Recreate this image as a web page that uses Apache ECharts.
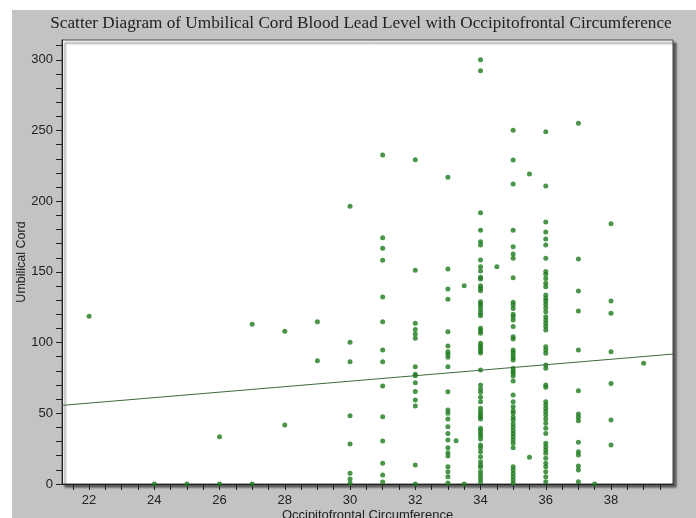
<!DOCTYPE html>
<html>
<head>
<meta charset="utf-8">
<script src="https://cdn.jsdelivr.net/npm/echarts@6/dist/echarts.min.js"></script>
<style>
html,body{margin:0;padding:0;background:#ffffff;}
#frame{position:absolute;left:12px;top:10px;width:684px;height:508px;background:#c3c3c3;}
#chart{position:absolute;left:0;top:0;width:696px;height:518px;}
</style>
</head>
<body>
<div id="frame"></div>
<div id="chart"></div>
<script>
// Occipitofrontal circumference columns -> umbilical cord blood lead values
const x22 = [118.7];
const x24 = [0];
const x25 = [0];
const x26 = [33.5, 0];
const x27 = [113, 0];
const x28 = [108, 41.7];
const x29 = [114.8, 87.2];
const x30 = [196.4, 100.2, 86.5, 48.2, 28.3, 7.6, 3.5, 0.5];
const x31 = [232.7, 174.2, 166.7, 158.2, 132.2, 114.8, 94.8, 86.5, 69.3, 47.6, 30.4, 14.6, 6.4, 1.4];
const x32 = [229.4, 151.1, 113.7, 109.2, 106, 103, 83, 77.6, 76.6, 71.6, 65.5, 59.4, 55.2, 13.4, 0];
const x33 = [216.9, 152, 137.9, 130.6, 107.7, 97.6, 93.6, 91.7, 89.6, 83, 65.3, 52.3, 50, 46, 40.5, 35.8, 31.1, 25.7, 22.1, 19.8, 12.2, 8.7, 5.2, 0.7];
const x33_25 = [30.6];
const x33_5 = [140.2, 0];
const x34 = [300, 292.3, 191.9, 179.4, 171.4, 169, 158.4, 153.7, 150.6, 146.2, 145, 140.2, 138.4, 136.7, 128.9, 127.1, 125.4, 123.1, 120.7, 119, 110.1, 108.4, 106.6, 99.5, 97.6, 96, 94.1, 92.6, 80.6, 70, 67.2, 64.8, 61.3, 58.2, 53.5, 51.2, 49.3, 47.6, 46, 39.4, 37.7, 35.8, 33.9, 31.8, 27.6, 25.7, 22.8, 19.3, 15.8, 13.4, 11.8, 8.7, 6.4, 4, 1.6];
const x34_5 = [153.7];
const x35 = [250.1, 229.1, 212.2, 179.4, 167.8, 162.7, 159.6, 145.9, 128.5, 126.6, 124.2, 120, 118.3, 116, 111.3, 104.2, 102.5, 94.8, 93.1, 91.2, 89.3, 87.7, 81.8, 79.9, 78.3, 76.4, 72.8, 62.9, 58.2, 54.7, 51.8, 50, 47.2, 45.3, 42.4, 40.1, 37.7, 35.8, 33.5, 31.1, 28.8, 25.7, 12.2, 9.9, 7.5, 5.2, 2.8, 0.5];
const x35_5 = [219.2, 18.9];
const x36 = [249.2, 210.7, 185.3, 178.2, 173.3, 169, 159.6, 150.2, 148.3, 145.4, 141.9, 139.5, 133.7, 131.3, 129.4, 127.1, 124.7, 121.9, 118.3, 116, 113.6, 111.3, 108.9, 97.1, 94.8, 92.4, 84.2, 81.8, 70, 68.4, 58.2, 55.9, 53.5, 51.2, 48.8, 46, 42.9, 39.4, 35.8, 28.8, 26.4, 24, 21.7, 18.2, 14.6, 12.2, 8.7, 5.2, 1.6];
const x37 = [255.1, 159.1, 136.5, 122.3, 94.8, 66, 49.5, 47.2, 44.8, 29.5, 22.8, 20.5, 12.7, 9.9, 1.6];
const x37_5 = [0];
const x38 = [184.1, 129.4, 120.7, 93.6, 71, 45.3, 27.6];
const x39 = [85.4];

const columnX = [22, 24, 25, 26, 27, 28, 29, 30, 31, 32, 33, 33.25, 33.5, 34, 34.5, 35, 35.5, 36, 37, 37.5, 38, 39];
const columnY = [x22, x24, x25, x26, x27, x28, x29, x30, x31, x32, x33, x33_25, x33_5, x34, x34_5, x35, x35_5, x36, x37, x37_5, x38, x39];

// fitted line end points
const trendX = [21.17, 39.9];
const trendY = [55.6, 91.9];

// axis ticks and labels
const xTicks = [21.5, 22, 22.5, 23, 23.5, 24, 24.5, 25, 25.5, 26, 26.5, 27, 27.5, 28, 28.5, 29, 29.5, 30, 30.5, 31, 31.5, 32, 32.5, 33, 33.5, 34, 34.5, 35, 35.5, 36, 36.5, 37, 37.5, 38, 38.5, 39, 39.5];
const xLabels = [22, 24, 26, 28, 30, 32, 34, 36, 38];
const yTicks = [0, 10, 20, 30, 40, 50, 60, 70, 80, 90, 100, 110, 120, 130, 140, 150, 160, 170, 180, 190, 200, 210, 220, 230, 240, 250, 260, 270, 280, 290, 300, 310];
const yLabels = [0, 50, 100, 150, 200, 250, 300];

const points = [];
columnX.forEach((x, i) => columnY[i].forEach(y => points.push([x, y])));
const trend = trendX.map((x, i) => [x, trendY[i]]);

const chart = echarts.init(document.getElementById('chart'), null, {renderer: 'canvas'});
chart.setOption({
  animation: false,
  backgroundColor: 'transparent',
  title: {
    text: 'Scatter Diagram of Umbilical Cord Blood Lead Level with Occipitofrontal Circumference',
    left: 356,
    textAlign: 'center',
    top: 10,
    textStyle: {fontFamily: 'Liberation Serif', fontSize: 17.2, fontWeight: 'normal', color: '#222'}
  },
  grid: {
    left: 62, top: 40, right: 23, bottom: 34,
    outerBoundsMode: 'none', containLabel: false,
    show: true, backgroundColor: '#ffffff', borderColor: '#444', borderWidth: 1,
    shadowColor: 'rgba(60,60,60,0.8)', shadowOffsetX: 3, shadowOffsetY: 3, shadowBlur: 2
  },
  xAxis: {
    type: 'value', min: 21.17, max: 39.9,
    name: 'Occipitofrontal Circumference', nameLocation: 'middle', nameGap: 25,
    nameMoveOverlap: false,
    nameTextStyle: {fontFamily: 'Liberation Sans', fontSize: 13, color: '#222'},
    axisLine: {show: true, onZero: false, lineStyle: {color: '#222'}},
    axisTick: {show: true, length: 6, customValues: xTicks, lineStyle: {color: '#222'}},
    axisLabel: {customValues: xLabels, fontFamily: 'Liberation Sans', fontSize: 13, color: '#222', margin: 10},
    splitLine: {show: false}
  },
  yAxis: {
    type: 'value', min: 0, max: 314,
    name: 'Umbilical Cord', nameLocation: 'middle', nameGap: 34,
    nameMoveOverlap: false,
    nameTextStyle: {fontFamily: 'Liberation Sans', fontSize: 12.5, color: '#222'},
    axisLine: {show: true, lineStyle: {color: '#222'}},
    axisTick: {show: true, length: 6, customValues: yTicks, lineStyle: {color: '#222'}},
    axisLabel: {customValues: yLabels, fontFamily: 'Liberation Sans', fontSize: 13, color: '#222', margin: 9},
    splitLine: {show: false}
  },
  series: [
    {
      type: 'scatter', data: points, symbol: 'circle', symbolSize: 5,
      itemStyle: {color: '#1b7a1b'}
    },
    {
      type: 'line', data: trend, symbol: 'none',
      lineStyle: {color: '#3d6b3d', width: 1}
    }
  ]
});
</script>
</body>
</html>
